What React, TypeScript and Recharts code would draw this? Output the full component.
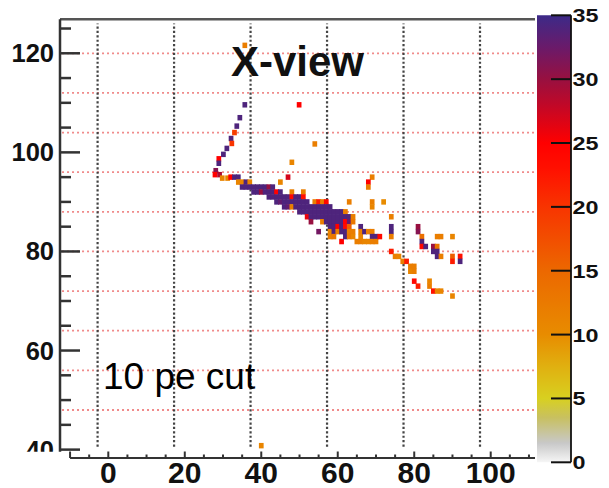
import React from 'react';
import { ScatterChart, Scatter, XAxis, YAxis, ReferenceLine, BarChart, Bar } from 'recharts';

const FONT = "'Liberation Sans', Arial, Helvetica, sans-serif";

// ---- axis / grid values ----
const xTicks = [-10, -5, 0, 5, 10, 15, 20, 25, 30, 35, 40, 45, 50, 55, 60, 65, 70, 75, 80, 85, 90, 95, 100, 105, 110];
const xLabels = [0, 20, 40, 60, 80, 100];
const yTicks = [40, 45, 50, 55, 60, 65, 70, 75, 80, 85, 90, 95, 100, 105, 110, 115, 120, 125];
const yLabels = [40, 60, 80, 100, 120];
const xGrid = [-2.8, 17.2, 37.2, 57.2, 77.2, 97.2];
const yGrid = [48, 56, 64, 72, 80, 88, 96, 104, 112, 120];
const colorTicks = [0, 5, 10, 15, 20, 25, 30, 35];
const colorMax = 35;

// ---- histogram cells [x, y, content] ----
const hookCells = [
  [35.7, 109.6, 34], [34.4, 107.0, 34], [33.6, 105.3, 34], [33.0, 104.0, 19], [32.1, 102.8, 34],
  [32.3, 101.8, 20], [31.0, 100.8, 34], [30.1, 99.6, 34], [28.9, 98.7, 25], [28.9, 97.8, 34],
  [28.1, 96.3, 31], [27.9, 95.5, 25], [29.1, 95.5, 29], [29.8, 94.8, 11], [31.2, 94.8, 11],
];

const trackCells = [
  [32, 95, 25], [33, 95, 34], [34, 95, 34], [34, 94, 11], [35, 94, 11], [35, 93, 34], [36, 94, 34], [36, 93, 34], [37, 94, 11], [37, 93, 34],
  [38, 93, 34], [38, 92, 34], [39, 93, 34], [39, 92, 34], [40, 93, 34], [40, 92, 30], [41, 93, 34], [41, 92, 34],
  [42, 93, 30], [42, 92, 34], [42, 91, 34], [43, 93, 34], [43, 92, 34], [43, 91, 34],
  [44, 92, 25], [44, 91, 34], [44, 90, 34], [45, 92, 34], [45, 91, 34], [45, 90, 33],
  [46, 91, 34], [46, 90, 34], [46, 89, 34], [47, 91, 34], [47, 90, 34], [47, 89, 33],
  [48, 92, 12], [48, 91, 24], [48, 90, 34], [48, 89, 12],
  [49, 91, 34], [49, 90, 34], [49, 89, 34],
  [50, 91, 34], [50, 90, 34], [50, 89, 34], [50, 88, 34],
  [51, 92, 12], [51, 91, 23], [51, 90, 34], [51, 89, 34], [51, 88, 34],
  [52, 90, 34], [52, 89, 34], [52, 88, 34], [52, 87, 26],
  [53, 89, 34], [53, 88, 34], [53, 87, 34], [53, 86, 30],
  [54, 90, 12], [54, 89, 34], [54, 88, 34], [54, 87, 34],
  [55, 90, 22], [55, 89, 34], [55, 88, 34], [55, 87, 34],
  [56, 90, 12], [56, 89, 34], [56, 88, 34], [56, 87, 34], [56, 86, 12],
  [57, 90, 24], [57, 89, 34], [57, 88, 34], [57, 87, 34], [57, 86, 34],
  [58, 89, 34], [58, 88, 34], [58, 87, 34], [58, 86, 34], [58, 85, 34], [58, 84, 11], [58, 83, 12],
  [59, 88, 34], [59, 87, 34], [59, 86, 34], [59, 85, 34], [59, 84, 34], [59, 83, 13],
  [60, 88, 34], [60, 87, 34], [60, 86, 34], [60, 85, 25], [60, 84, 12],
  [61, 88, 34], [61, 87, 34], [61, 86, 34], [61, 85, 34], [61, 84, 34], [61, 82, 25],
  [62, 88, 12], [62, 87, 34], [62, 86, 25], [62, 85, 24], [62, 84, 34], [62, 83, 34],
  [63, 87, 34], [63, 86, 33], [63, 85, 16], [63, 84, 12], [63, 83, 13],
  [64, 87, 12], [64, 86, 13], [64, 84, 12], [64, 83, 11],
  [65, 82, 12],
  [66, 85, 34], [66, 84, 12], [66, 83, 11], [66, 82, 12],
  [67, 84, 34], [67, 82, 11],
  [68, 84, 12], [68, 82, 11],
  [69, 84, 12], [69, 83, 34], [69, 82, 12],
  [70, 83, 34], [70, 82, 12],
  [71, 83, 24],
  [74, 87, 12], [74, 85, 34], [74, 84, 34], [74, 83, 12],
];

const tailCells = [
  [74, 80, 22], [75, 79, 12], [76, 79, 11], [77, 78, 12], [78, 78, 22], [79, 77, 12], [80, 77, 12], [79, 76, 11], [80, 76, 12],
  [80, 74, 24], [81, 73, 22], [84, 74, 11], [84, 73, 12], [85, 72, 23], [86, 72, 11], [87, 72, 11], [90, 71, 11],
  [81, 85, 30], [81, 84, 31], [82, 83, 14], [82, 82, 34], [82, 81, 24], [83, 81, 34], [85, 81, 30], [85, 80, 34],
  [86, 81, 13], [86, 80, 34], [86, 79, 34], [87, 79, 12], [86, 83, 12], [87, 83, 12], [90, 83, 11],
  [90, 79, 16], [90, 78, 22], [92, 79, 23], [92, 78, 34],
];

const strayCells = [
  [35.7, 121.6, 12], [49.9, 109.6, 25], [54.0, 101.7, 12], [48, 98, 11], [47, 95, 27], [45, 94, 11],
  [69, 95, 12], [68, 94, 25], [68, 93, 12], [69, 90, 12], [69, 89, 11], [72, 90, 10], [63, 90, 12],
  [55, 84, 32], [40.0, 40.8, 11],
];

// ---- geometry ----
const X_MIN = -12.63;
const X_MAX = 111.58;
const Y_MIN = 39.58;
const Y_MAX = 126.86;
const PLOT_LEFT = 60;
const PLOT_RIGHT = 535;
const PLOT_TOP = 19.3;
const PLOT_BOTTOM = 451.7;
const X_AXIS_Y = 38.3; // data y where the detached x axis line sits
const CELL_W = (PLOT_RIGHT - PLOT_LEFT) / (X_MAX - X_MIN);
const CELL_H = (PLOT_BOTTOM - PLOT_TOP) / (Y_MAX - Y_MIN);

// ---- palette ----
const palette: [number, number[]][] = [
  [0, [246, 246, 246]],
  [1.5, [200, 200, 200]],
  [3.5, [200, 192, 96]],
  [5, [216, 208, 32]],
  [7.5, [224, 176, 16]],
  [10, [232, 140, 0]],
  [15, [236, 104, 0]],
  [20, [248, 52, 0]],
  [23, [255, 16, 0]],
  [25, [255, 0, 0]],
  [28, [192, 8, 40]],
  [30, [152, 16, 64]],
  [32.5, [106, 26, 106]],
  [35, [60, 42, 136]],
];

function rgb(c: number[]) {
  return `rgb(${Math.round(c[0])},${Math.round(c[1])},${Math.round(c[2])})`;
}
function colorFor(v: number): string {
  if (v <= palette[0][0]) return rgb(palette[0][1]);
  for (let i = 1; i < palette.length; i++) {
    const [v1, c1] = palette[i];
    const [v0, c0] = palette[i - 1];
    if (v <= v1) {
      const t = (v - v0) / (v1 - v0);
      return rgb(c0.map((c, k) => c + (c1[k] - c) * t));
    }
  }
  return rgb(palette[palette.length - 1][1]);
}

const toPoints = (arr: number[][]) => arr.map(([x, y, v]) => ({ x, y, v }));
const allCells = [...toPoints(hookCells), ...toPoints(trackCells), ...toPoints(tailCells), ...toPoints(strayCells)];

const CellShape = (props: any) => {
  const { cx, cy, payload } = props;
  if (cx == null || cy == null) return null;
  const w = CELL_W + 0.9;
  const h = CELL_H + 0.5;
  return <rect x={cx - w / 2} y={cy - h / 2} width={w} height={h} fill={colorFor(payload.v)} />;
};

const XTick = (props: any) => {
  const { x, payload } = props;
  const v = payload.value;
  const major = v % 20 === 0 || v === -10;
  const axisY = 458;
  return (
    <g>
      <line x1={x} x2={x} y1={axisY} y2={axisY - (major ? 6.5 : 3.5)} stroke="#333" strokeWidth={2} />
      {xLabels.includes(v) && (
        <text x={x} y={483} textAnchor="middle" fontFamily={FONT} fontWeight="bold" fontSize={30} fill="#111">
          {v}
        </text>
      )}
    </g>
  );
};

const YTick = (props: any) => {
  const { y, payload } = props;
  const v = payload.value;
  const major = v % 20 === 0;
  const label = yLabels.includes(v);
  return (
    <g>
      <line x1={PLOT_LEFT} x2={PLOT_LEFT + (major ? 20 : 11)} y1={y} y2={y} stroke="#333" strokeWidth={2.5} />
      {label && (
        <svg x={0} y={0} width={PLOT_LEFT} height={PLOT_BOTTOM} overflow="hidden">
          <text x={54} y={y + 9} textAnchor="end" fontFamily={FONT} fontWeight="bold" fontSize={25.5} fill="#111">
            {v}
          </text>
        </svg>
      )}
    </g>
  );
};

const CBAR_AXIS_X = 41;
const CbTick = (props: any) => {
  const { y, payload } = props;
  const v = payload.value;
  const s = String(v);
  return (
    <g>
      <line x1={CBAR_AXIS_X - 20} x2={CBAR_AXIS_X} y1={y} y2={y} stroke="#111" strokeWidth={2} />
      <text
        x={CBAR_AXIS_X + 1.5}
        y={y + 7}
        fontFamily={FONT}
        fontWeight="bold"
        fontSize={19}
        fill="#111"
        textLength={13 * s.length}
        lengthAdjust="spacingAndGlyphs"
      >
        {s}
      </text>
    </g>
  );
};

const colorBarData = [{ name: 'z', top: colorMax }];

export default function App() {
  return (
    <div style={{ position: 'absolute', left: 0, top: 0, width: 609, height: 488, background: '#fff', overflow: 'hidden' }}>
      <div style={{ position: 'absolute', left: 0, top: 0 }}>
        <ScatterChart width={609} height={488} margin={{ top: PLOT_TOP, right: 609 - PLOT_RIGHT, bottom: 0, left: 0 }}>
          <XAxis
            type="number"
            dataKey="x"
            domain={[X_MIN, X_MAX]}
            allowDataOverflow
            ticks={xTicks}
            interval={0}
            height={488 - PLOT_BOTTOM}
            axisLine={false}
            tickLine={false}
            tick={<XTick />}
          />
          <YAxis
            type="number"
            dataKey="y"
            domain={[Y_MIN, Y_MAX]}
            allowDataOverflow
            ticks={yTicks}
            interval={0}
            width={PLOT_LEFT}
            axisLine={{ stroke: '#333', strokeWidth: 2.5 }}
            tickLine={false}
            tick={<YTick />}
          />
          <Scatter data={allCells} shape={<CellShape />} isAnimationActive={false} />
          {yGrid.map((g) => (
            <ReferenceLine
              key={'h' + g}
              segment={[{ x: -12.1, y: g }, { x: X_MAX, y: g }]}
              stroke="#f08a8a"
              strokeWidth={1.8}
              strokeDasharray="2 3"
            />
          ))}
          {xGrid.map((g) => (
            <ReferenceLine
              key={'v' + g}
              segment={[{ x: g, y: 40.6 }, { x: g, y: 126 }]}
              stroke="#444"
              strokeWidth={2.2}
              strokeDasharray="2.2 2.2"
            />
          ))}
          <ReferenceLine
            segment={[{ x: X_MIN, y: Y_MAX }, { x: X_MAX, y: Y_MAX }]}
            stroke="#555"
            strokeWidth={2.5}
            ifOverflow="visible"
          />
          <ReferenceLine
            segment={[{ x: -10, y: X_AXIS_Y }, { x: X_MAX, y: X_AXIS_Y }]}
            stroke="#333"
            strokeWidth={2}
            ifOverflow="visible"
          />
        </ScatterChart>
      </div>

      <div style={{ position: 'absolute', left: 530, top: 0 }}>
        <BarChart
          width={79}
          height={488}
          data={colorBarData}
          margin={{ top: 15.3, right: 0, bottom: 25.7, left: 7 }}
          barCategoryGap={0}
          barGap={0}
        >
          <defs>
            <linearGradient id="cbGrad" x1="0" y1="0" x2="0" y2="1">
              {palette
                .slice()
                .reverse()
                .map(([v, c]) => (
                  <stop key={v} offset={(colorMax - v) / colorMax} stopColor={rgb(c)} />
                ))}
            </linearGradient>
          </defs>
          <XAxis dataKey="name" hide />
          <YAxis
            type="number"
            orientation="right"
            domain={[0, colorMax]}
            ticks={colorTicks}
            interval={0}
            width={38}
            axisLine={{ stroke: '#111', strokeWidth: 1.8 }}
            tickLine={false}
            tick={<CbTick />}
          />
          <Bar dataKey="top" fill="url(#cbGrad)" isAnimationActive={false} />
        </BarChart>
      </div>

      <svg width={609} height={488} style={{ position: 'absolute', left: 0, top: 0, pointerEvents: 'none' }}>
        <text x={297.5} y={75.5} textAnchor="middle" fontFamily={FONT} fontWeight="bold" fontSize={42} fill="#111">
          X-view
        </text>
        <text x={103} y={389} fontFamily={FONT} fontSize={37} fill="#000">
          10 pe cut
        </text>
      </svg>
    </div>
  );
}
